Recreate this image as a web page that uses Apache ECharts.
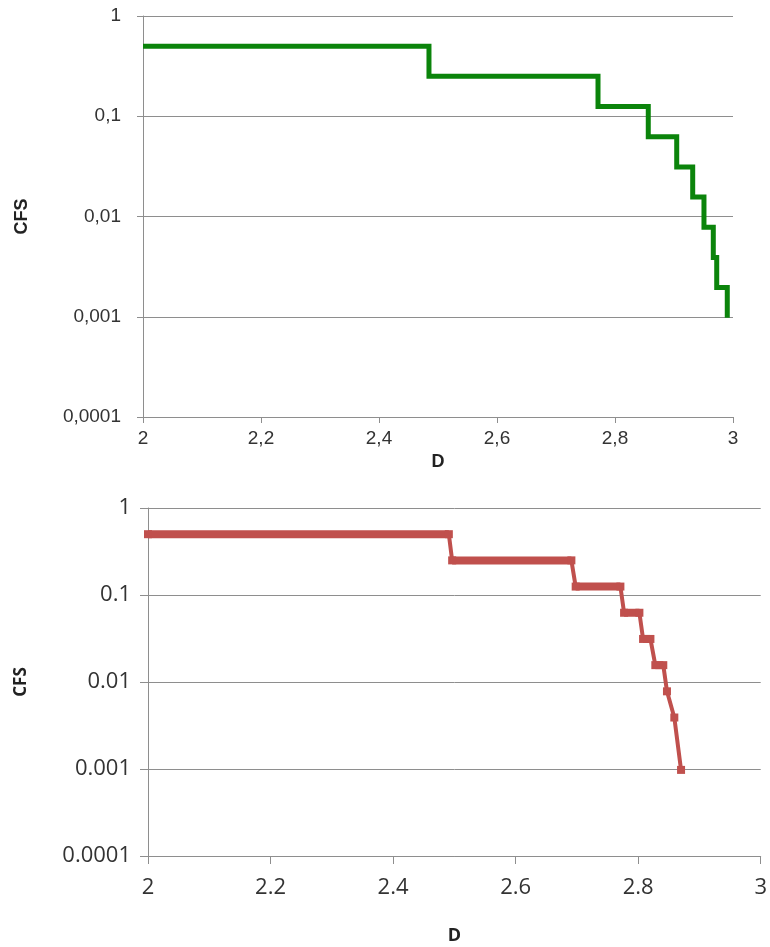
<!DOCTYPE html>
<html>
<head>
<meta charset="utf-8">
<script src="https://cdn.jsdelivr.net/npm/echarts@6/dist/echarts.min.js"></script>
<style>
  html, body { margin: 0; padding: 0; background: #fff; }
  #chart { width: 770px; height: 947px; }
</style>
</head>
<body>
<div id="chart"></div>
<script>
// ---- Data ----
// Top chart: step curve, D where CFS drops to the next level
const dTop = [2, 2.4847, 2.7712, 2.8564, 2.9046, 2.9317, 2.9508, 2.9666, 2.9724, 2.9903];
const cfsTop = [0.5, 0.25, 0.125, 0.0625, 0.03125, 0.015625, 0.0078125, 0.00390625, 0.001953125, 0.0009765625];

// Bottom chart: points connected by straight lines
const dBottom = [2, 2.491, 2.4964, 2.691, 2.698, 2.771, 2.777, 2.802, 2.808, 2.820, 2.828, 2.841, 2.847, 2.859, 2.870];
const cfsBottom = [0.5, 0.5, 0.25, 0.25, 0.125, 0.125, 0.0625, 0.0625, 0.03125, 0.03125, 0.015625, 0.015625, 0.0078125, 0.00390625, 0.0009765625];

// Tick labels
const topYTickLabels = ['0,0001', '0,001', '0,01', '0,1', '1'];
const topXTickLabels = ['2', '2,2', '2,4', '2,6', '2,8', '3'];
const bottomYTickLabels = ['0.0001', '0.001', '0.01', '0.1', '1'];
const bottomXTickLabels = ['2', '2.2', '2.4', '2.6', '2.8', '3'];

const topColor = '#0b840b';
const bottomColor = '#c0504d';
const gridColor = '#8e8e8e';

function yIdx(v) { return Math.round(Math.log10(v)) + 4; }
function xIdx(v) { return Math.round((v - 2) / 0.2); }

const topSeriesData = dTop.map((d, i) => [d, cfsTop[i]]);
const bottomSeriesData = dBottom.map((d, i) => [d, cfsBottom[i]]);

// plateau segments (consecutive equal CFS values) drawn thicker
const plateauSeries = [];
for (let i = 0; i < dBottom.length - 1; i++) {
  if (cfsBottom[i] === cfsBottom[i + 1]) {
    plateauSeries.push({
      type: 'line', xAxisIndex: 1, yAxisIndex: 1,
      data: [[dBottom[i], cfsBottom[i]], [dBottom[i + 1], cfsBottom[i + 1]]],
      showSymbol: false, silent: true,
      lineStyle: { color: bottomColor, width: 8, cap: 'butt' },
      z: 3
    });
  }
}

const chart = echarts.init(document.getElementById('chart'), null, { renderer: 'canvas' });

const topFont = "'Liberation Sans', Arial, sans-serif";
const botFont = "'Open Sans', sans-serif";

chart.setOption({
  animation: false,
  backgroundColor: '#ffffff',
  grid: [
    { left: 143, top: 16, width: 590, height: 401, containLabel: false },
    { left: 148, top: 508, width: 615, height: 348, containLabel: false }
  ],
  xAxis: [
    {
      gridIndex: 0, type: 'value', min: 2, max: 3, interval: 0.2,
      name: 'D', nameLocation: 'middle', nameGap: 36,
      nameTextStyle: { fontFamily: topFont, fontWeight: 'bold', fontSize: 18, color: '#222' },
      axisLine: { show: true, onZero: false, lineStyle: { color: gridColor, width: 1 } },
      axisTick: { show: true, inside: false, length: 6, lineStyle: { color: gridColor } },
      axisLabel: { margin: 12, fontFamily: topFont, fontSize: 19, color: '#333',
        formatter: v => topXTickLabels[xIdx(v)] },
      splitLine: { show: false }
    },
    {
      gridIndex: 1, type: 'value', min: 2, max: 3, interval: 0.2,
      name: 'D', nameLocation: 'middle', nameGap: 71,
      nameTextStyle: { fontFamily: botFont, fontWeight: 'bold', fontSize: 18, color: '#222' },
      axisLine: { show: true, onZero: false, lineStyle: { color: gridColor, width: 1 } },
      axisTick: { show: true, inside: false, length: 8, lineStyle: { color: gridColor } },
      axisLabel: { margin: 21, fontFamily: botFont, fontSize: 22, color: '#333',
        formatter: v => bottomXTickLabels[xIdx(v)] },
      splitLine: { show: false }
    }
  ],
  yAxis: [
    {
      gridIndex: 0, type: 'log', logBase: 10, min: 0.0001, max: 1,
      name: 'CFS', nameLocation: 'middle', nameGap: 112, nameRotate: 90,
      nameTextStyle: { fontFamily: topFont, fontWeight: 'bold', fontSize: 18, color: '#222' },
      axisLine: { show: true, onZero: false, lineStyle: { color: gridColor, width: 1 } },
      axisTick: { show: true, inside: false, length: 6, lineStyle: { color: gridColor } },
      axisLabel: { margin: 22, fontFamily: topFont, fontSize: 19, color: '#333',
        formatter: v => topYTickLabels[yIdx(v)] },
      splitLine: { show: true, lineStyle: { color: gridColor, width: 1 } }
    },
    {
      gridIndex: 1, type: 'log', logBase: 10, min: 0.0001, max: 1,
      name: 'CFS', nameLocation: 'middle', nameGap: 118, nameRotate: 90,
      nameTextStyle: { fontFamily: botFont, fontWeight: 'bold', fontSize: 17, color: '#222' },
      axisLine: { show: true, onZero: false, lineStyle: { color: gridColor, width: 1 } },
      axisTick: { show: true, inside: false, length: 8, lineStyle: { color: gridColor } },
      axisLabel: { margin: 17, fontFamily: botFont, fontSize: 22, color: '#333',
        formatter: v => bottomYTickLabels[yIdx(v)] },
      splitLine: { show: true, lineStyle: { color: gridColor, width: 1 } }
    }
  ],
  series: [
    {
      type: 'line', xAxisIndex: 0, yAxisIndex: 0,
      data: topSeriesData, step: 'end', showSymbol: false,
      lineStyle: { color: topColor, width: 5, join: 'miter' },
      z: 3
    },
    {
      type: 'line', xAxisIndex: 1, yAxisIndex: 1,
      data: bottomSeriesData, symbol: 'rect', symbolSize: 8, showSymbol: true,
      itemStyle: { color: bottomColor },
      lineStyle: { color: bottomColor, width: 4 },
      z: 4
    }
  ].concat(plateauSeries)
});
</script>
</body>
</html>
